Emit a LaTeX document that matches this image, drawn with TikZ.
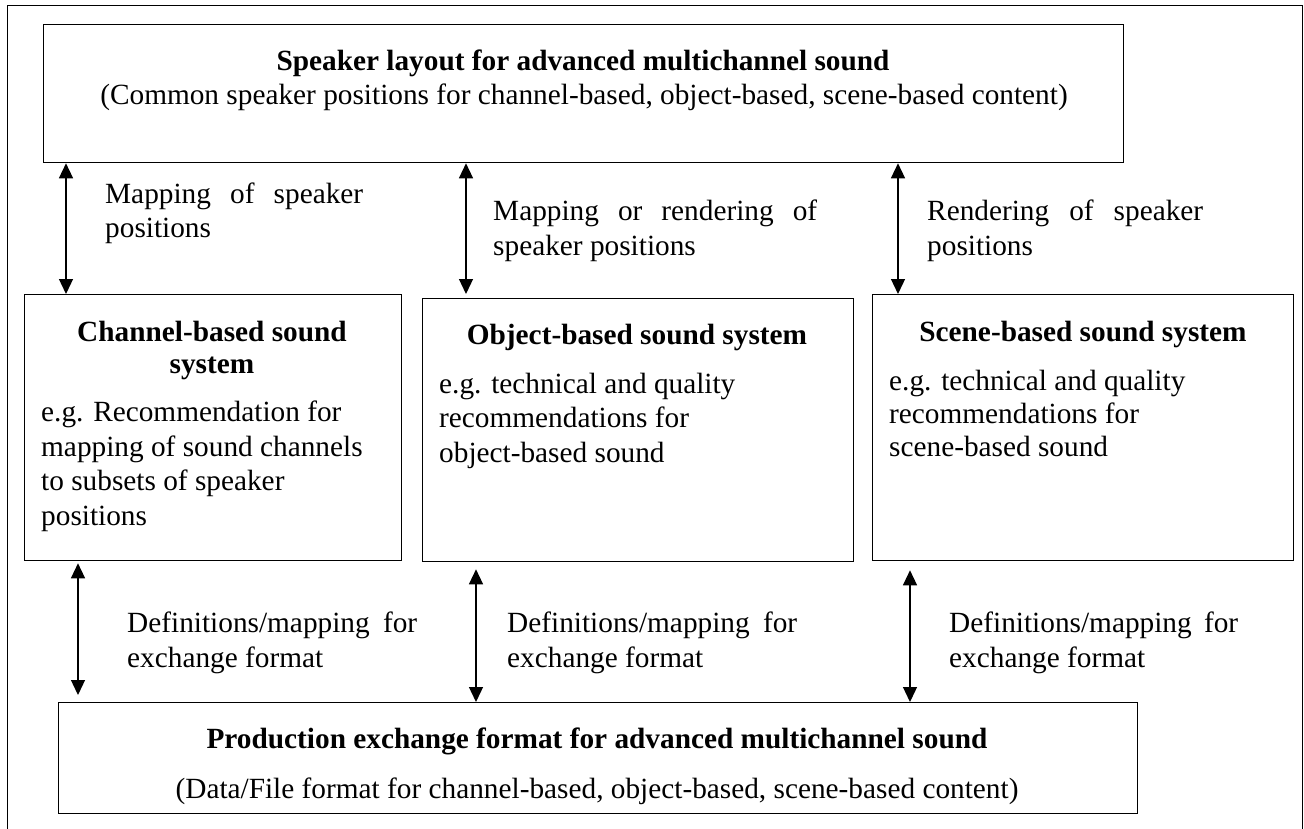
\documentclass[tikz,border=0pt]{standalone}
\usepackage{fontspec}
\setmainfont{Liberation Serif}
\usetikzlibrary{arrows.meta}
\begin{document}
\begin{tikzpicture}[x=1pt,y=-1pt,
  box/.style={draw,line width=1.3pt,rectangle,inner sep=0pt,anchor=north west},
  txt/.style={inner sep=0pt,font=\fontsize{29.3}{34.5}\selectfont},
  ttl/.style={txt,anchor=base,font=\fontsize{29.3}{32}\selectfont\bfseries,align=center},
  body/.style={txt,anchor=base west,align=left},
  dbl/.style={line width=1.3pt,{Triangle[width=14pt,length=15pt]}-{Triangle[width=14pt,length=15pt]}}]
\useasboundingbox (0,0) rectangle (1304,829);
% outer frame (bottom edge outside the picture)
\draw[line width=1pt] (7,832) -- (7,6) -- (1302,6) -- (1302,832);
% boxes
\node[box,minimum width=1080pt,minimum height=138pt] (top) at (43,24) {};
\node[box,minimum width=377pt,minimum height=266pt] (chan) at (24,294) {};
\node[box,minimum width=431pt,minimum height=263pt] (obj) at (422,298) {};
\node[box,minimum width=421pt,minimum height=266pt] (scene) at (872,294) {};
\node[box,minimum width=1079pt,minimum height=111pt] (prod) at (58,702) {};
% box texts (multi-line nodes are anchored at the baseline of their last line)
\node[ttl] (topT) at (583,71) {Speaker layout for advanced multichannel sound};
\node[txt,anchor=base] (topS) at (584,105) {(Common speaker positions for channel-based, object-based, scene-based content)};
\node[ttl] (chanT) at (212,373) {Channel-based sound\\system};
\node[body] (chanB) at (41,525) {e.g. Recommendation for\\mapping of sound channels\\to subsets of speaker\\positions};
\node[ttl] (objT) at (637,344) {Object-based sound system};
\node[body] (objB) at (439,462) {e.g. technical and quality\\recommendations for\\object-based sound};
\node[ttl] (sceneT) at (1083,341) {Scene-based sound system};
\node[body,font=\fontsize{29.3}{33}\selectfont] (sceneB) at (889,456) {e.g. technical and quality\\recommendations for\\scene-based sound};
\node[ttl] (prodT) at (597,748) {Production exchange format for advanced multichannel sound};
\node[txt,anchor=base] (prodS) at (597,798) {(Data/File format for channel-based, object-based, scene-based content)};
% connectors
\coordinate (a1) at (66,0);
\coordinate (a2) at (466,0);
\coordinate (a3) at (898,0);
\coordinate (b1) at (78,0);
\coordinate (b2) at (476,0);
\coordinate (b3) at (910,0);
\draw[dbl] (a1 |- top.south) -- (a1 |- chan.north);
\draw[dbl,shorten >=4pt] (a2 |- top.south) -- (a2 |- obj.north);
\draw[dbl] (a3 |- top.south) -- (a3 |- scene.north);
\draw[dbl,shorten <=2pt,shorten >=7pt] (b1 |- chan.south) -- (b1 |- prod.north);
\draw[dbl,shorten <=7pt] (b2 |- obj.south) -- (b2 |- prod.north);
\draw[dbl,shorten <=9pt] (b3 |- scene.south) -- (b3 |- prod.north);
% connector labels
\node[body] (l1) at (105,238) {\makebox[258pt][s]{Mapping of speaker}\\positions};
\node[body] (l2) at (493,255) {\makebox[324pt][s]{Mapping or rendering of}\\speaker positions};
\node[body] (l3) at (927,255) {\makebox[276pt][s]{Rendering of speaker}\\positions};
\node[body] (l4) at (127,667) {\makebox[290pt][s]{Definitions/mapping for}\\exchange format};
\node[body] (l5) at (507,667) {\makebox[290pt][s]{Definitions/mapping for}\\exchange format};
\node[body] (l6) at (949,667) {\makebox[289pt][s]{Definitions/mapping for}\\exchange format};
\end{tikzpicture}
\end{document}
